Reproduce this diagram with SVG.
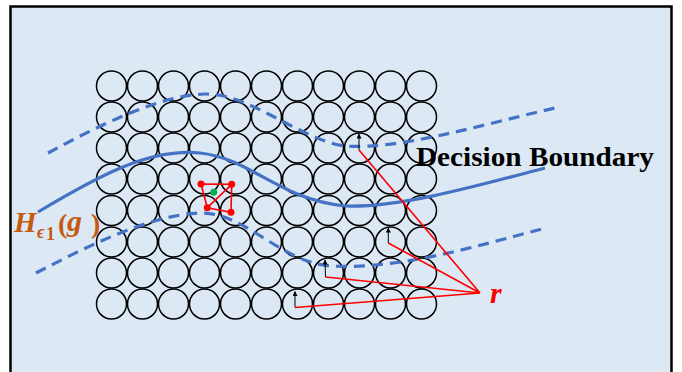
<svg xmlns="http://www.w3.org/2000/svg" xmlns:xlink="http://www.w3.org/1999/xlink" width="682" height="372" viewBox="0 0 682 372">
<style>
.cell{fill:none;stroke:#000;stroke-width:1.5}
.bnd{fill:none;stroke:#4472c4;stroke-width:3.2}
.dash{fill:none;stroke:#4472c4;stroke-width:3.2;stroke-dasharray:11 7}
.red{fill:none;stroke:#ff0000;stroke-width:1.6}
.arr{fill:none;stroke:#000;stroke-width:1;marker-end:url(#ah)}
.dot{fill:#ff0000}
</style>
<defs>
<ellipse id="c" class="cell" cx="0" cy="0" rx="15" ry="15"/>
<marker id="ah" viewBox="0 0 10 10" refX="9" refY="5" markerWidth="6" markerHeight="5" orient="auto" markerUnits="userSpaceOnUse">
<path d="M0,0 L10,5 L0,10 z" fill="#000"/>
</marker>
</defs>
<rect x="10.5" y="6.5" width="661" height="380" fill="#dde8f5" stroke="#000" stroke-width="2.5"/>
<g id="grid">
<g transform="translate(0,86)"><use href="#c" x="111.5"/><use href="#c" x="142.5"/><use href="#c" x="173.5"/><use href="#c" x="204.5"/><use href="#c" x="235.5"/><use href="#c" x="266.5"/><use href="#c" x="297.5"/><use href="#c" x="328.5"/><use href="#c" x="359.5"/><use href="#c" x="390.5"/><use href="#c" x="421.5"/></g>
<g transform="translate(0,117)"><use href="#c" x="111.5"/><use href="#c" x="142.5"/><use href="#c" x="173.5"/><use href="#c" x="204.5"/><use href="#c" x="235.5"/><use href="#c" x="266.5"/><use href="#c" x="297.5"/><use href="#c" x="328.5"/><use href="#c" x="359.5"/><use href="#c" x="390.5"/><use href="#c" x="421.5"/></g>
<g transform="translate(0,148)"><use href="#c" x="111.5"/><use href="#c" x="142.5"/><use href="#c" x="173.5"/><use href="#c" x="204.5"/><use href="#c" x="235.5"/><use href="#c" x="266.5"/><use href="#c" x="297.5"/><use href="#c" x="328.5"/><use href="#c" x="359.5"/><use href="#c" x="390.5"/><use href="#c" x="421.5"/></g>
<g transform="translate(0,179)"><use href="#c" x="111.5"/><use href="#c" x="142.5"/><use href="#c" x="173.5"/><use href="#c" x="204.5"/><use href="#c" x="235.5"/><use href="#c" x="266.5"/><use href="#c" x="297.5"/><use href="#c" x="328.5"/><use href="#c" x="359.5"/><use href="#c" x="390.5"/><use href="#c" x="421.5"/></g>
<g transform="translate(0,210.5)"><use href="#c" x="111.5"/><use href="#c" x="142.5"/><use href="#c" x="173.5"/><use href="#c" x="204.5"/><use href="#c" x="235.5"/><use href="#c" x="266.5"/><use href="#c" x="297.5"/><use href="#c" x="328.5"/><use href="#c" x="359.5"/><use href="#c" x="390.5"/><use href="#c" x="421.5"/></g>
<g transform="translate(0,242)"><use href="#c" x="111.5"/><use href="#c" x="142.5"/><use href="#c" x="173.5"/><use href="#c" x="204.5"/><use href="#c" x="235.5"/><use href="#c" x="266.5"/><use href="#c" x="297.5"/><use href="#c" x="328.5"/><use href="#c" x="359.5"/><use href="#c" x="390.5"/><use href="#c" x="421.5"/></g>
<g transform="translate(0,273)"><use href="#c" x="111.5"/><use href="#c" x="142.5"/><use href="#c" x="173.5"/><use href="#c" x="204.5"/><use href="#c" x="235.5"/><use href="#c" x="266.5"/><use href="#c" x="297.5"/><use href="#c" x="328.5"/><use href="#c" x="359.5"/><use href="#c" x="390.5"/><use href="#c" x="421.5"/></g>
<g transform="translate(0,304)"><use href="#c" x="111.5"/><use href="#c" x="142.5"/><use href="#c" x="173.5"/><use href="#c" x="204.5"/><use href="#c" x="235.5"/><use href="#c" x="266.5"/><use href="#c" x="297.5"/><use href="#c" x="328.5"/><use href="#c" x="359.5"/><use href="#c" x="390.5"/><use href="#c" x="421.5"/></g>
</g>
<g id="boundaries">
<path class="dash" d="M48,153 C100,125 160,95 205,94 C250,93 300,140 345,146 C400,150 480,125 555,108"/>
<path class="dash" d="M36,273 C90,245 150,215 200,213 C245,212 280,262 330,266 C400,270 480,245 542,229"/>
<path class="bnd" d="M38,212 C100,175 150,148 200,153 C250,158 280,200 345,206 C400,208 480,185 545,168"/>
</g>
<g id="perturbation">
<path class="red" d="M201,184 L231.7,184.3 L231,212.3 L207.3,207.7 Z M231.7,184.3 L207.3,207.7"/>
<circle class="dot" cx="201" cy="184" r="3.5"/>
<circle class="dot" cx="231.7" cy="184.3" r="3.5"/>
<circle class="dot" cx="207.3" cy="207.7" r="3.5"/>
<circle class="dot" cx="231" cy="212.3" r="3.5"/>
<circle cx="213.7" cy="192.3" r="3.5" fill="#00b050"/>
</g>
<g id="connectors">
<path class="arr" d="M359,150 L359,134"/>
<path class="arr" d="M388.3,243 L388.3,228"/>
<path class="arr" d="M325.5,277 L325,260"/>
<path class="arr" d="M295,307.5 L295,291.5"/>
<path class="red" d="M359,150 L480,293 M388.3,243 L480,293 M325.5,277 L480,293 M295,307.5 L480,293"/>
</g>
<g id="labels">
<text x="416" y="166" font-family="Liberation Serif, serif" font-weight="bold" font-size="27" textLength="238" lengthAdjust="spacingAndGlyphs" fill="#000">Decision Boundary</text>
<text x="490" y="303" font-family="Liberation Serif, serif" font-weight="bold" font-style="italic" font-size="30" fill="#ff0000">r</text>
<g fill="#c55a11" font-family="Liberation Serif, serif" font-weight="bold">
<text x="14" y="232" font-size="29" font-style="italic">H</text>
<text x="37" y="238" font-size="18" font-style="italic">ϵ</text>
<text x="46" y="240" font-size="18">1</text>
<text x="58" y="233" font-size="28">(</text>
<text x="67" y="231" font-size="30" font-style="italic">g</text>
<text x="91" y="233" font-size="28">)</text>
</g>
</g>
</svg>
